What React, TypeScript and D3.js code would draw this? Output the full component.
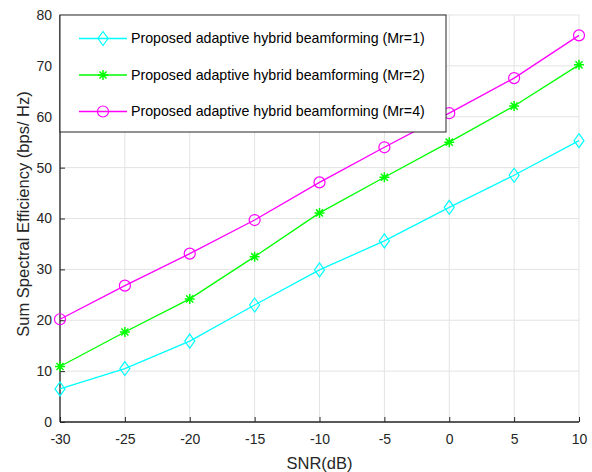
import React, { useEffect, useRef } from "react";
import * as d3 from "d3";

const snr = [-30, -25, -20, -15, -10, -5, 0, 5, 10];
const mr1 = [6.5, 10.5, 15.9, 23.0, 29.9, 35.6, 42.2, 48.5, 55.3];
const mr2 = [10.9, 17.7, 24.2, 32.5, 41.1, 48.1, 55.0, 62.1, 70.2];
const mr4 = [20.2, 26.8, 33.1, 39.7, 47.1, 54.0, 60.7, 67.6, 76.0];
const xTicks = [-30, -25, -20, -15, -10, -5, 0, 5, 10];
const yTicks = [0, 10, 20, 30, 40, 50, 60, 70, 80];

const seriesList = [
  { name: "Proposed adaptive hybrid beamforming (Mr=1)", values: mr1, color: "#00ffff", marker: "diamond" },
  { name: "Proposed adaptive hybrid beamforming (Mr=2)", values: mr2, color: "#00ff00", marker: "star" },
  { name: "Proposed adaptive hybrid beamforming (Mr=4)", values: mr4, color: "#ff00ff", marker: "circle" },
];

const W = 592;
const H = 472;
const margin = { top: 15, right: 13, bottom: 50, left: 60 };
const font = "'Liberation Sans', Arial, Helvetica, sans-serif";

function drawMarker(g: any, kind: string, x: number, y: number, color: string) {
  if (kind === "diamond") {
    g.append("path")
      .attr("d", `M${x},${y - 7}L${x + 5},${y}L${x},${y + 7}L${x - 5},${y}Z`)
      .attr("fill", "none").attr("stroke", color).attr("stroke-width", 1.2);
  } else if (kind === "circle") {
    g.append("circle").attr("cx", x).attr("cy", y).attr("r", 5.5)
      .attr("fill", "none").attr("stroke", color).attr("stroke-width", 1.2);
  } else {
    const r = 5;
    const p = [0, 45, 90, 135].map(a => {
      const t = (a * Math.PI) / 180;
      return `M${x - r * Math.cos(t)},${y - r * Math.sin(t)}L${x + r * Math.cos(t)},${y + r * Math.sin(t)}`;
    }).join("");
    g.append("path").attr("d", p).attr("stroke", color).attr("stroke-width", 1.5);
  }
}

export default function App() {
  const svgRef = useRef<SVGSVGElement>(null);

  useEffect(() => {
    const svg = d3.select(svgRef.current);
    svg.selectAll("*").remove();
    const iw = W - margin.left - margin.right;
    const ih = H - margin.top - margin.bottom;

    const x = d3.scaleLinear().domain([-30, 10]).range([margin.left, margin.left + iw]);
    const y = d3.scaleLinear().domain([0, 80]).range([margin.top + ih, margin.top]);

    svg.append("rect").attr("width", W).attr("height", H).attr("fill", "#fff");

    // grid
    const grid = svg.append("g").attr("stroke", "#e3e3e3").attr("stroke-width", 1);
    xTicks.forEach(t => {
      grid.append("line").attr("x1", x(t)).attr("x2", x(t)).attr("y1", y(0)).attr("y2", y(80));
    });
    yTicks.forEach(t => {
      grid.append("line").attr("x1", x(-30)).attr("x2", x(10)).attr("y1", y(t)).attr("y2", y(t));
    });

    // axes
    const xAxis = d3.axisBottom(x).tickValues(xTicks).tickSize(-5).tickPadding(12).tickFormat(d => String(d));
    const gx = svg.append("g").attr("transform", `translate(0,${y(0)})`).call(xAxis);
    const yAxis = d3.axisLeft(y).tickValues(yTicks).tickSize(-5).tickPadding(8).tickFormat(d => String(d));
    const gy = svg.append("g").attr("transform", `translate(${x(-30)},0)`).call(yAxis);
    [gx, gy].forEach(g => {
      g.select(".domain").attr("stroke", "#262626").attr("stroke-width", 1.3);
      g.selectAll(".tick line").attr("stroke", "#262626");
      g.selectAll(".tick text").attr("fill", "#262626").attr("font-size", 14).attr("font-family", font);
    });
    gx.select(".domain").attr("d", `M${x(-30)},0H${x(10)}`);
    gy.select(".domain").attr("d", `M0,${y(0)}V${y(80)}`);

    // lines
    const line = d3.line<number>().x((_, i) => x(snr[i])).y(d => y(d));
    seriesList.forEach(s => {
      svg.append("path").datum(s.values).attr("d", line)
        .attr("fill", "none").attr("stroke", s.color).attr("stroke-width", 1.3);
      const mg = svg.append("g");
      s.values.forEach((v, i) => drawMarker(mg, s.marker, x(snr[i]), y(v), s.color));
    });

    // legend
    const lg = svg.append("g");
    lg.append("rect").attr("x", x(-30)).attr("y", margin.top).attr("width", 386).attr("height", 117)
      .attr("fill", "#fff").attr("stroke", "#262626").attr("stroke-width", 1);
    seriesList.forEach((s, i) => {
      const cy = 38.5 + i * 36.5;
      lg.append("line").attr("x1", 79).attr("x2", 127).attr("y1", cy).attr("y2", cy)
        .attr("stroke", s.color).attr("stroke-width", 1.3);
      drawMarker(lg, s.marker, 103, cy, s.color);
      lg.append("text").attr("x", 131).attr("y", cy).attr("dy", "0.35em")
        .attr("font-size", 14.2).attr("font-family", font).attr("fill", "#000").text(s.name);
    });

    // axis labels
    svg.append("text").attr("x", (x(-30) + x(10)) / 2).attr("y", 469).attr("text-anchor", "middle")
      .attr("font-size", 16.5).attr("font-family", font).attr("fill", "#262626").text("SNR(dB)");
    svg.append("text").attr("transform", `translate(29,214) rotate(-90)`)
      .attr("text-anchor", "middle").attr("font-size", 16.5).attr("font-family", font).attr("fill", "#262626")
      .text("Sum Spectral Efficiency (bps/ Hz)");
  }, []);

  return (
    <svg ref={svgRef} width={W} height={H} style={{ position: "fixed", left: 0, top: 0, display: "block" }} />
  );
}
